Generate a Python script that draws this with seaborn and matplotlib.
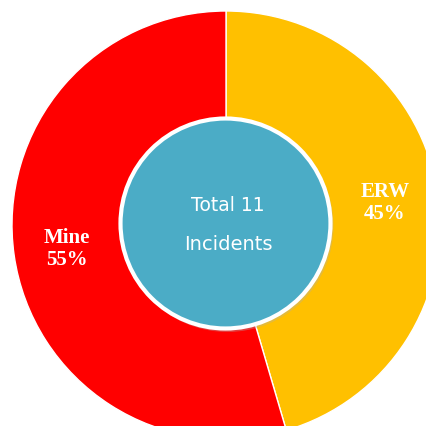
import matplotlib
matplotlib.use('Agg')
import matplotlib.pyplot as plt
import seaborn as sns
from matplotlib.patches import Circle

# 데이터
categories = ['ERW', 'Mine']
incidents = [5, 6]
colors = ['#FFC000', '#FF0000']
total_label = ['Total 11', 'Incidents']

sns.set_style('white')

W = 427
fig = plt.figure(figsize=(4.27, 4.27), dpi=100)
ax = fig.add_axes([0, 0, 1, 1])

total = sum(incidents)
labels = [f"{c}\n{v / total * 100:.0f}%" for c, v in zip(categories, incidents)]

wedges, texts = ax.pie(
    incidents, labels=labels, colors=colors, startangle=90, counterclock=False,
    center=(226, W - 226), radius=214, labeldistance=0.75,
    wedgeprops=dict(edgecolor='white', linewidth=1),
    textprops=dict(color='white', fontsize=15, fontweight='bold',
                   family='Liberation Serif', linespacing=1.15),
)
for t in texts:
    t.set_ha('center')
    t.set_va('center')

# 가운데 원
ax.add_patch(Circle((227.5, W - 227), 106, facecolor='#B0B0B0', edgecolor='none', alpha=0.35, zorder=3))
ax.add_patch(Circle((225.5, W - 224.5), 105, facecolor='#4BACC6', edgecolor='white', linewidth=3, zorder=4))
ax.text(228, W - 206, total_label[0], ha='center', va='center', color='white',
        fontsize=13.5, family='DejaVu Sans', zorder=5)
ax.text(228, W - 245, total_label[1], ha='center', va='center', color='white',
        fontsize=14, family='DejaVu Sans', zorder=5)

ax.set_xlim(0, W)
ax.set_ylim(0, W)
ax.set_aspect('equal')
ax.axis('off')

fig.savefig('out.png', dpi=100, facecolor='white')
